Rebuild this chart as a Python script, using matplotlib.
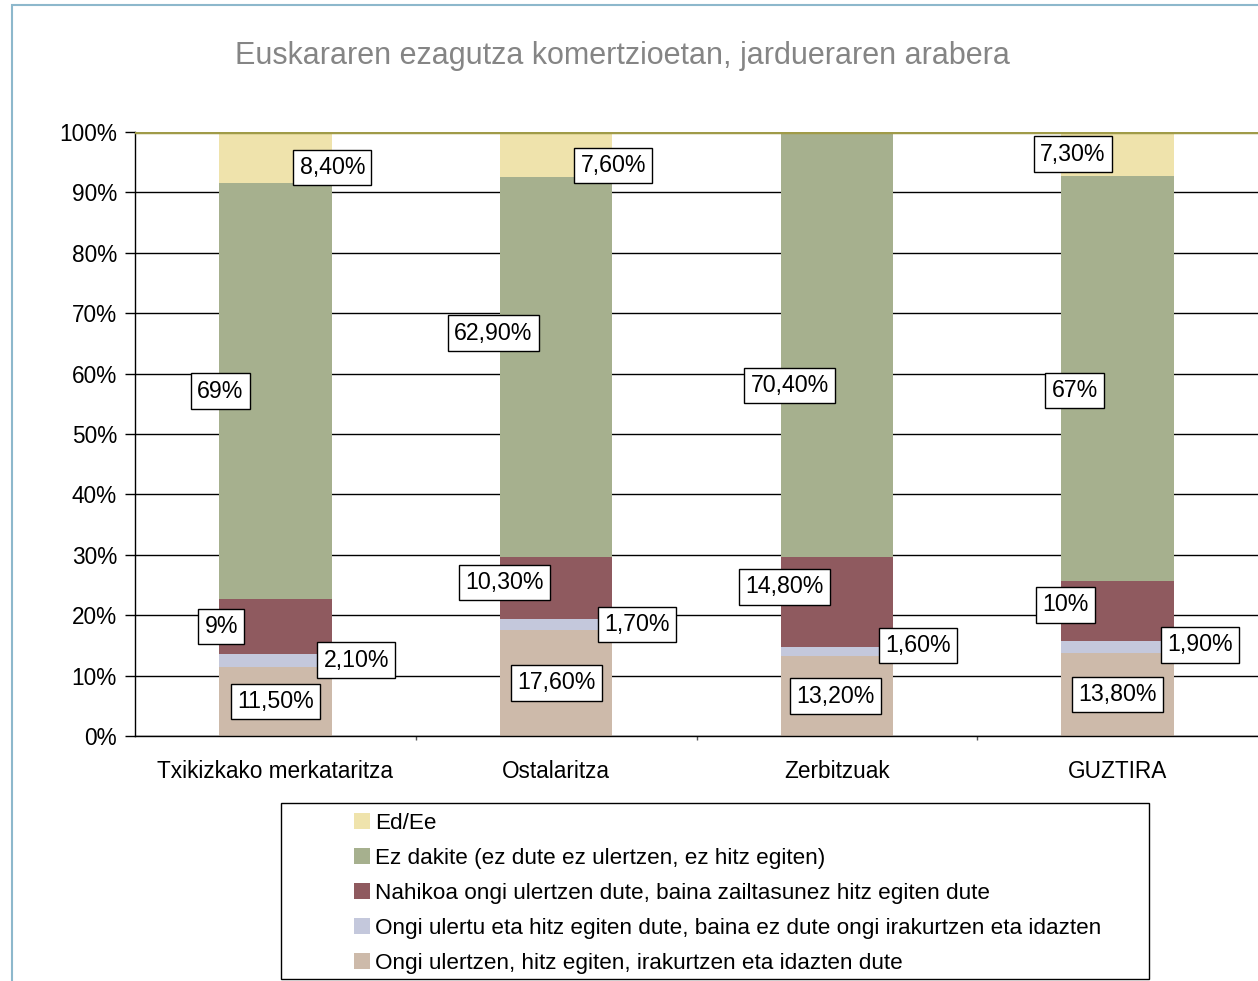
import matplotlib.pyplot as plt
import matplotlib.patches as mpatches
import numpy as np

# Data
categories = ['Txikizkako merkataritza', 'Ostalaritza', 'Zerbitzuak', 'GUZTIRA']
series_names = ['Ongi ulertzen, hitz egiten, irakurtzen eta idazten dute',
                'Ongi ulertu eta hitz egiten dute, baina ez dute ongi irakurtzen eta idazten',
                'Nahikoa ongi ulertzen dute, baina zailtasunez hitz egiten dute',
                'Ez dakite (ez dute ez ulertzen, ez hitz egiten)',
                'Ed/Ee']
ongi_dena = [11.5, 17.6, 13.2, 13.8]
ongi_ez_idatzi = [2.1, 1.7, 1.6, 1.9]
nahikoa = [9.0, 10.3, 14.8, 10.0]
ez_dakite = [69.0, 62.9, 70.4, 67.0]
ed_ee = [8.4, 7.6, 0.0, 7.3]
labels = [['11,50%', '17,60%', '13,20%', '13,80%'],
          ['2,10%', '1,70%', '1,60%', '1,90%'],
          ['9%', '10,30%', '14,80%', '10%'],
          ['69%', '62,90%', '70,40%', '67%'],
          ['8,40%', '7,60%', '', '7,30%']]

colors = ['#CDBAAA', '#C4C8DC', '#8F5A5F', '#A6B08E', '#EFE3AC']
# label offsets (pixels) from segment middle
offsets = [[(0, 0), (0, 0), (-1, 0), (0, 0)],
           [(81, 0), (81, 0), (81, 6), (82, 2)],
           [(-54, 0), (-52, 6), (-52, 15), (-52, 6)],
           [(-55, 0), (-63, 34), (-47, -41), (-43, -12)],
           [(57, -10), (57, -11), (0, 0), (-45, 0)]]

plt.rcParams['font.family'] = ['Liberation Sans', 'DejaVu Sans']
FS = 16.3

fig = plt.figure(figsize=(12.58, 9.81), dpi=100)
ax = fig.add_axes([135/1258, 1-736/981, 1-135/1258, (736-132)/981])

series = [ongi_dena, ongi_ez_idatzi, nahikoa, ez_dakite, ed_ee]
x = np.arange(len(categories))
bottom = np.zeros(len(categories))
for i, vals in enumerate(series):
    vals = np.array(vals)
    ax.bar(x, vals, 0.4, bottom=bottom, color=colors[i], zorder=2, label=series_names[i])
    for j in range(len(categories)):
        if labels[i][j]:
            mid = min(bottom[j] + vals[j] / 2, 100)
            ax.annotate(labels[i][j], (x[j], mid), xytext=offsets[i][j],
                        textcoords='offset pixels', ha='center', va='center',
                        fontsize=16.7, zorder=5,
                        bbox=dict(boxstyle='square,pad=0.27', fc='white', ec='black', lw=1))
    bottom += vals

ax.set_xlim(-0.5, 3.5)
ax.set_ylim(0, 100)
ax.set_yticks(np.arange(0, 101, 10))
ax.set_yticklabels([f'{v}%' for v in range(0, 101, 10)], fontsize=FS)
ax.set_xticks(x)
ax.set_xticklabels(categories, fontsize=FS)
ax.set_xticks(np.arange(0.5, 3.5, 1), minor=True)
ax.tick_params(axis='x', which='major', length=0, pad=17)
ax.tick_params(axis='x', which='minor', length=3, width=1, color='#555555')
ax.tick_params(axis='y', length=7, width=1, pad=6)
ax.grid(axis='y', color='black', lw=1, zorder=1)
ax.axhline(100, color='#A09B48', lw=2.5, zorder=3)
for s in ['top', 'right']:
    ax.spines[s].set_visible(False)
ax.spines['left'].set_linewidth(1)
ax.spines['bottom'].set_linewidth(1)

fig.text(622/1258, 1-56/981, 'Euskararen ezagutza komertzioetan, jardueraren arabera',
         ha='center', va='center', fontsize=22, color='#858585')

# legend
h, l = ax.get_legend_handles_labels()
leg = fig.legend(h[::-1], l[::-1], loc='upper left', bbox_to_anchor=(354/1258, 1-813/981),
                 frameon=False, fontsize=16.2, handlelength=0.7, handleheight=0.7,
                 handletextpad=0.22, labelspacing=0.62, borderpad=0, borderaxespad=0)
fig.patches.append(mpatches.Rectangle((281/1258, 1-979/981), (1149-281)/1258, (979-803)/981,
                                      transform=fig.transFigure, fill=False, ec='black', lw=1))
# outer frame
fig.patches.append(mpatches.Rectangle((12/1258, -0.05), 1.1, 1-5/981+0.05,
                                      transform=fig.transFigure, fill=False, ec='#8DB8CC', lw=1.5))

fig.savefig('out.png', dpi=100)
